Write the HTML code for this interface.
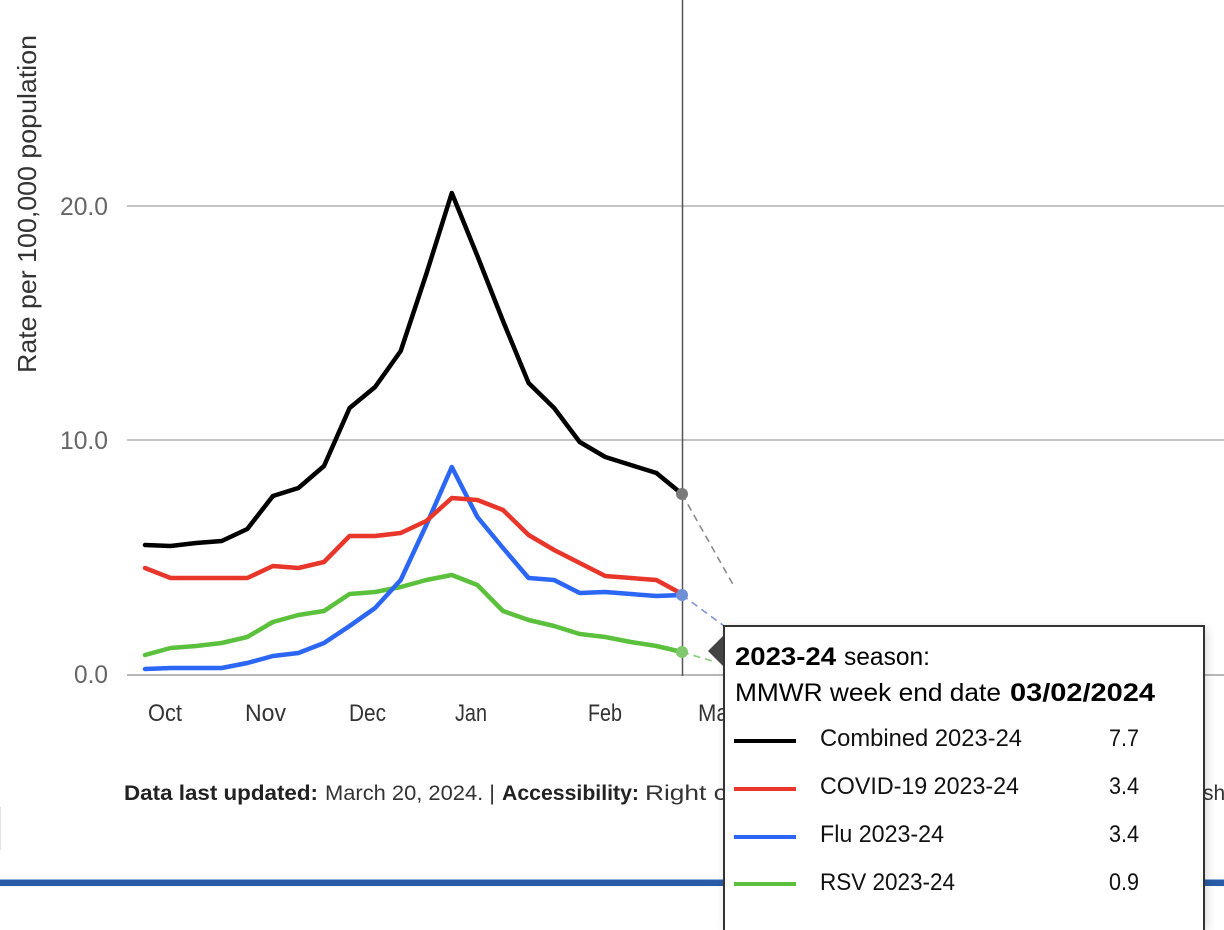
<!DOCTYPE html>
<html>
<head>
<meta charset="utf-8">
<style>
  html,body{margin:0;padding:0;background:#fff;}
  body{width:1224px;height:930px;overflow:hidden;position:relative;}
  svg{position:absolute;left:0;top:0;display:block;}
  text{font-family:"Liberation Sans",Arial,sans-serif;}
</style>
</head>
<body>
<svg width="1224" height="930" viewBox="0 0 1224 930" xmlns="http://www.w3.org/2000/svg">
  <defs>
    <filter id="sh" x="-10%" y="-10%" width="125%" height="125%">
      <feDropShadow dx="2" dy="2" stdDeviation="5" flood-color="#000" flood-opacity="0.18"/>
    </filter>
  </defs>
  <rect width="1224" height="930" fill="#fff"/>

  <!-- gridlines -->
  <line x1="127" y1="206" x2="1224" y2="206" stroke="#c4c4c4" stroke-width="2"/>
  <line x1="127" y1="440" x2="1224" y2="440" stroke="#c4c4c4" stroke-width="2"/>
  <line x1="127" y1="675" x2="1224" y2="675" stroke="#b8b8b8" stroke-width="2"/>

  <!-- crosshair -->
  <line x1="682.5" y1="0" x2="682.5" y2="676" stroke="#555" stroke-width="1.5"/>

  <!-- y tick labels -->
  <text x="108" y="215" font-size="25" fill="#666" text-anchor="end" textLength="48" lengthAdjust="spacingAndGlyphs">20.0</text>
  <text x="108" y="449" font-size="25" fill="#666" text-anchor="end" textLength="48" lengthAdjust="spacingAndGlyphs">10.0</text>
  <text x="108" y="683" font-size="25" fill="#666" text-anchor="end" textLength="34" lengthAdjust="spacingAndGlyphs">0.0</text>

  <!-- y title -->
  <text transform="translate(36,204) rotate(-90)" font-size="26" fill="#333" text-anchor="middle" textLength="338" lengthAdjust="spacingAndGlyphs">Rate per 100,000 population</text>

  <!-- x labels -->
  <text x="148" y="721" font-size="24" fill="#333" textLength="34" lengthAdjust="spacingAndGlyphs">Oct</text>
  <text x="245" y="721" font-size="24" fill="#333" textLength="41" lengthAdjust="spacingAndGlyphs">Nov</text>
  <text x="349" y="721" font-size="24" fill="#333" textLength="37" lengthAdjust="spacingAndGlyphs">Dec</text>
  <text x="455" y="721" font-size="24" fill="#333" textLength="32" lengthAdjust="spacingAndGlyphs">Jan</text>
  <text x="588" y="721" font-size="24" fill="#333" textLength="34" lengthAdjust="spacingAndGlyphs">Feb</text>
  <text x="698" y="721" font-size="24" fill="#333" textLength="38" lengthAdjust="spacingAndGlyphs">Mar</text>

  <!-- series -->
  <g fill="none" stroke-width="4.5" stroke-linejoin="round" stroke-linecap="round">
    <polyline stroke="#5bc13c" points="145,655 170.6,648 196.1,646 221.7,643 247.3,637 272.9,622 298.4,615 324,611 349.6,594 375.1,592 400.7,587 426.3,580 451.8,575 477.4,585 503,611 528.6,620 554.1,626 579.7,634 605.3,637 630.8,642 656.4,646 682,652"/>
    <polyline stroke="#2b66f5" points="145,669 170.6,668 196.1,668 221.7,668 247.3,663 272.9,656 298.4,653 324,643 349.6,626 375.1,608 400.7,580 426.3,525 451.8,467 477.4,517 503,548 528.6,578 554.1,580 579.7,593 605.3,592 630.8,594 656.4,596 682,595"/>
    <polyline stroke="#e8362a" points="145,568 170.6,578 196.1,578 221.7,578 247.3,578 272.9,566 298.4,568 324,562 349.6,536 375.1,536 400.7,533 426.3,521 451.8,498 477.4,500 503,510 528.6,535 554.1,550 579.7,563 605.3,576 630.8,578 656.4,580 682,594"/>
    <polyline stroke="#000" points="145,545 170.6,546 196.1,543 221.7,541 247.3,529 272.9,496 298.4,488 324,466 349.6,408 375.1,387 400.7,351 426.3,274 451.8,193 477.4,256 503,321 528.6,383 554.1,408 579.7,442 605.3,457 630.8,465 656.4,473 682,494"/>
  </g>

  <!-- dashed projections -->
  <g fill="none" stroke-width="1.6" stroke-dasharray="7,5">
    <line x1="682" y1="494" x2="735" y2="588" stroke="#8a8a8a"/>
    <line x1="682" y1="595" x2="735" y2="634" stroke="#7f93d2"/>
    <line x1="682" y1="652" x2="712" y2="661" stroke="#88cc78"/>
  </g>

  <!-- markers -->
  <circle cx="682" cy="494" r="6" fill="#7a7a7a"/>
  <circle cx="682" cy="595" r="6" fill="#6f8fd6"/>
  <circle cx="682" cy="652" r="6" fill="#80c96e"/>

  <!-- footer text -->
  <text x="124" y="800" font-size="21" font-weight="bold" fill="#222" textLength="194" lengthAdjust="spacingAndGlyphs">Data last updated:</text>
  <text x="325" y="800" font-size="21" fill="#333" textLength="170" lengthAdjust="spacingAndGlyphs">March 20, 2024. |</text>
  <text x="502" y="800" font-size="21" font-weight="bold" fill="#222" textLength="137" lengthAdjust="spacingAndGlyphs">Accessibility:</text>
  <text x="645" y="800" font-size="21" fill="#333" textLength="200" lengthAdjust="spacingAndGlyphs">Right click on the</text>
  <text x="1203" y="800" font-size="21" fill="#333">sh</text>

  <!-- faint left edge line -->
  <line x1="0.5" y1="807" x2="0.5" y2="850" stroke="#e2e2e2" stroke-width="1"/>

  <!-- blue bar -->
  <rect x="0" y="879" width="1224" height="7" fill="#2a5ba6"/>
  <rect x="0" y="879" width="1224" height="1" fill="#8fb0dc"/>

  <!-- tooltip -->
  <g>
    <rect x="724" y="626" width="480" height="304" fill="#fff" filter="url(#sh)"/>
    <path d="M724,930 L724,626 L1204,626 L1204,930" fill="none" stroke="#333" stroke-width="2"/>
    <polygon points="708,651 723,636 723,666" fill="#444"/>
    <text x="735" y="665" font-size="25" font-weight="bold" fill="#000" textLength="101" lengthAdjust="spacingAndGlyphs">2023-24</text>
    <text x="844" y="665" font-size="25" fill="#000" textLength="86" lengthAdjust="spacingAndGlyphs">season:</text>
    <text x="735" y="701" font-size="25" fill="#000" textLength="266" lengthAdjust="spacingAndGlyphs">MMWR week end date</text>
    <text x="1010" y="701" font-size="25" font-weight="bold" fill="#000" textLength="145" lengthAdjust="spacingAndGlyphs">03/02/2024</text>

    <rect x="734" y="739" width="62" height="4" fill="#000"/>
    <text x="820" y="746" font-size="24" fill="#111" textLength="202" lengthAdjust="spacingAndGlyphs">Combined 2023-24</text>
    <text x="1109" y="746" font-size="24" fill="#111" textLength="30" lengthAdjust="spacingAndGlyphs">7.7</text>

    <rect x="734" y="787" width="62" height="4" fill="#e8362a"/>
    <text x="820" y="794" font-size="24" fill="#111" textLength="199" lengthAdjust="spacingAndGlyphs">COVID-19 2023-24</text>
    <text x="1109" y="794" font-size="24" fill="#111" textLength="30" lengthAdjust="spacingAndGlyphs">3.4</text>

    <rect x="734" y="835" width="62" height="4" fill="#2b66f5"/>
    <text x="820" y="842" font-size="24" fill="#111" textLength="124" lengthAdjust="spacingAndGlyphs">Flu 2023-24</text>
    <text x="1109" y="842" font-size="24" fill="#111" textLength="30" lengthAdjust="spacingAndGlyphs">3.4</text>

    <rect x="734" y="882" width="62" height="4" fill="#5bc13c"/>
    <text x="820" y="890" font-size="24" fill="#111" textLength="135" lengthAdjust="spacingAndGlyphs">RSV 2023-24</text>
    <text x="1109" y="890" font-size="24" fill="#111" textLength="30" lengthAdjust="spacingAndGlyphs">0.9</text>
  </g>
</svg>
</body>
</html>
